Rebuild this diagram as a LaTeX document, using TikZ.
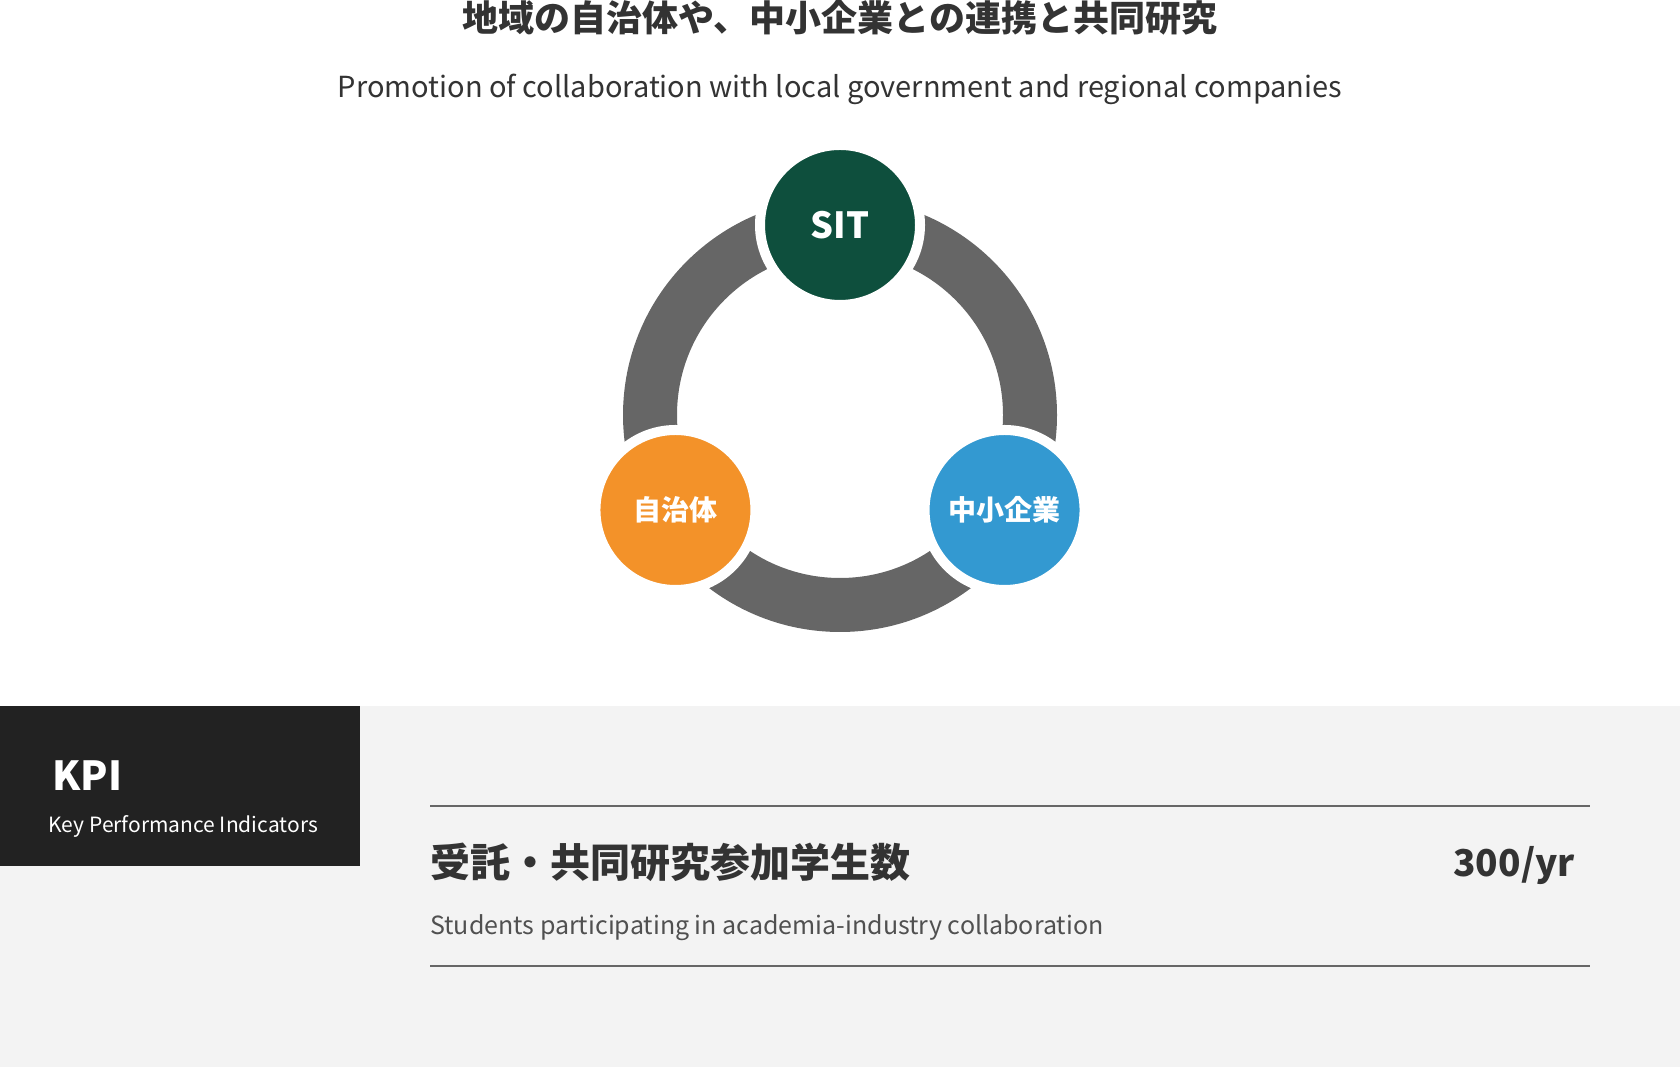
\documentclass[tikz,border=0pt]{standalone}
\usepackage{fontspec}
\setmainfont{Noto Sans CJK JP}
\definecolor{sitgreen}{RGB}{14,79,61}
\definecolor{cityorange}{RGB}{243,146,41}
\definecolor{smeblue}{RGB}{51,153,209}
\definecolor{ringgray}{RGB}{102,102,102}
\definecolor{bandgray}{RGB}{243,243,243}
\definecolor{kpidark}{RGB}{34,34,34}
\definecolor{textdark}{RGB}{51,51,51}
\definecolor{textmid}{RGB}{80,80,80}
\usetikzlibrary{positioning,calc}

\begin{document}
\begin{tikzpicture}[x=1pt, y=1pt,
  party/.style={circle, draw=white, line width=10pt, minimum size=160pt,
                inner sep=0pt, text=white, font=\fontsize{28}{30}\selectfont\bfseries},
  ring/.style={draw=ringgray, line width=54pt},
  rule/.style={draw=ringgray, line width=1.5pt}
]
\useasboundingbox (0,0) rectangle (1680,1067);

% Heading
\node[font=\fontsize{36}{40}\selectfont\bfseries, text=textdark] (title) at (840,1049)
  {地域の自治体や、中小企業との連携と共同研究};
\node[font=\fontsize{29}{33}\selectfont, text=textdark] (subtitle) at (840,978)
  {Promotion of collaboration with local government and regional companies};

% Cycle
\coordinate (hub) at (840,652);
\draw[ring] (hub) circle[radius=190];
\node[party, fill=sitgreen, font=\fontsize{36}{40}\selectfont\bfseries] (sit) at ($(hub)+(90:190)$) {SIT};
\node[party, fill=cityorange] (city) at ($(hub)+(210:190)$) {自治体};
\node[party, fill=smeblue]    (sme)  at ($(hub)+(-30:190)$) {中小企業};

% KPI band
\fill[bandgray] (0,0) rectangle (1680,361);
\node[fill=kpidark, minimum width=360pt, minimum height=160pt, inner sep=0pt,
      anchor=north west] (kpibox) at (0,361) {};
\node[anchor=base west, text=white, font=\fontsize{40}{44}\selectfont\bfseries] (kpi) at (49,276) {KPI};
\node[anchor=west, text=white, font=\fontsize{21}{24}\selectfont] (kpisub) at (45,241) {Key Performance Indicators};

\draw[rule] (430,261) -- (1590,261);
\draw[rule] (430,101) -- (1590,101);
\node[anchor=west, inner sep=0pt, text=textdark, font=\fontsize{40}{44}\selectfont\bfseries] (target) at (430,205)
  {受託・共同研究参加学生数};
\node[anchor=east, inner sep=0pt, text=textdark, font=\fontsize{37}{40}\selectfont\bfseries] (value) at (1575,201)
  {300/yr};
\node[anchor=west, inner sep=0pt, text=textmid, font=\fontsize{25}{28}\selectfont] (targetsub) at (430,139)
  {Students participating in academia-industry collaboration};
\end{tikzpicture}
\end{document}
